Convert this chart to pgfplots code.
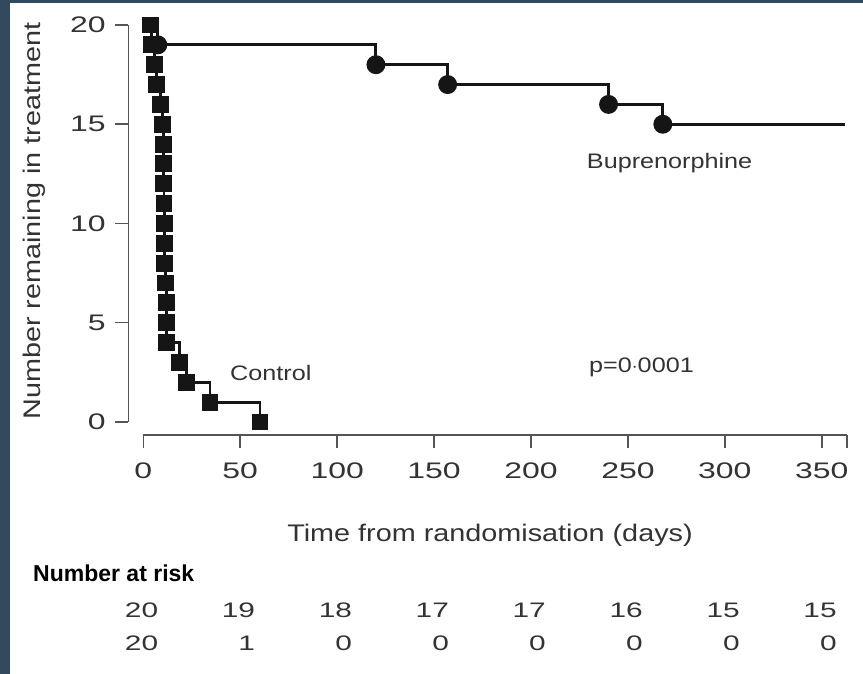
\documentclass[border=0pt]{standalone}
\usepackage{pgfplots}
\pgfplotsset{compat=1.18}
\usepackage{fontspec}
\setmainfont{Liberation Sans}[FakeStretch=1.2]
\newfontfamily\plainfont{Liberation Sans}
\newfontfamily\widefont{Liberation Sans}[FakeStretch=1.42]
\definecolor{frame}{HTML}{34495E}
\definecolor{txt}{HTML}{333333}
\definecolor{axisgrey}{HTML}{555555}
\definecolor{curve}{HTML}{151515}

\begin{document}
\begin{tikzpicture}[x=1pt,y=1pt]
\fill[white] (0,0) rectangle (863,674);
\fill[frame] (0,0) rectangle (10,674);
\fill[frame] (0,671) rectangle (863,674);

\begin{axis}[
  at={(143.3pt,252pt)}, anchor=south west,
  scale only axis, width=703.7pt, height=397pt,
  xmin=0, xmax=363, ymin=0, ymax=20,
  axis x line*=bottom, axis y line*=left,
  axis x line shift=13pt, axis y line shift=15pt,
  xtick={0,50,...,350}, ytick={0,5,...,20},
  extra x ticks={363}, extra x tick labels={},
  tick align=outside, major tick length=13pt,
  axis line style={draw=axisgrey, line width=1.5pt},
  every tick/.style={draw=axisgrey, line width=1.5pt},
  ticklabel style={font=\widefont\fontsize{22.5}{24}\selectfont, text=txt},
  xticklabel style={yshift=-11pt},
  yticklabel style={xshift=-6pt},
  /pgf/number format/assume math mode=true,
  clip=false,
]
% control arm
\addplot[const plot, curve, line width=2.9pt,
  mark=square*, mark size=7pt, mark options={solid, fill=curve, draw=curve}]
  coordinates {(3.5,20) (4,19) (6,18) (7,17) (9.1,16) (10,15) (10.3,14) (10.4,13)
    (10.5,12) (10.7,11) (10.8,10) (10.9,9) (11,8) (11.5,7) (12,6) (12,5) (12,4)
    (18.9,3) (22.4,2) (34.4,1) (60.2,0)};
% buprenorphine arm
\addplot[const plot, curve, line width=2.9pt,
  mark=*, mark size=8pt, mark indices={2,3,4,5,6},
  mark options={solid, fill=curve, draw=curve}]
  coordinates {(3.5,20) (7.5,19) (120,18) (157,17) (240,16) (268,15) (362,15)};

\node[font=\fontsize{21}{23}\selectfont, text=txt] at (axis cs:65.8,2.47) {Control};
\node[font=\fontsize{21}{23}\selectfont, text=txt] at (axis cs:271.5,13.05) {Buprenorphine};
\node[font=\fontsize{21}{23}\selectfont, text=txt] at (axis cs:257,2.77) {p=0$\cdot$0001};
\end{axis}

\node[font=\fontsize{24}{26}\selectfont, text=txt] at (490,139) {Time from randomisation (days)};
\node[font=\fontsize{24}{26}\selectfont, text=txt, rotate=90] at (34,453) {Number remaining in treatment};

\node[font=\plainfont\bfseries\fontsize{23}{25}\selectfont, text=black, anchor=base west, inner sep=0pt] at (33,92) {Number at risk};

\foreach \xx/\a/\b in {158.3/20/20, 255.2/19/1, 352.2/18/0, 449.1/17/0,
                       546/17/0, 643/16/0, 739.9/15/0, 836.8/15/0} {
  \node[font=\widefont\fontsize{21}{23}\selectfont, text=txt, anchor=base east, inner sep=0pt] at (\xx,56) {\a};
  \node[font=\widefont\fontsize{21}{23}\selectfont, text=txt, anchor=base east, inner sep=0pt] at (\xx,23) {\b};
}

\pgfresetboundingbox
\useasboundingbox (0,0) rectangle (863,674);
\end{tikzpicture}
\end{document}
